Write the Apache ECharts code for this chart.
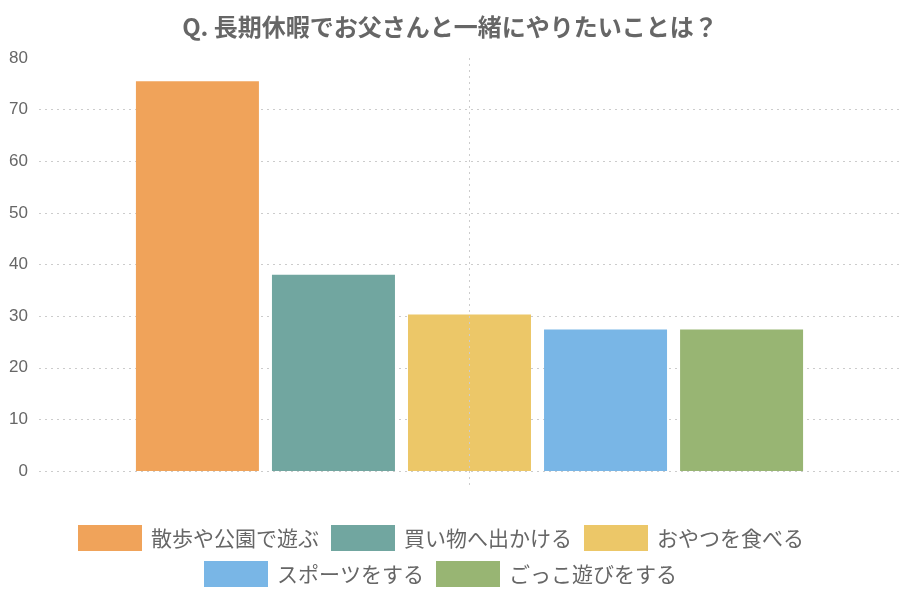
<!DOCTYPE html>
<html>
<head>
<meta charset="utf-8">
<script src="https://cdn.jsdelivr.net/npm/echarts@6/dist/echarts.min.js"></script>
<style>html,body{margin:0;padding:0;background:#fff}#c{width:900px;height:600px}</style>
</head>
<body>
<div id="c"></div>
<script>
const titleText = 'Q. 長期休暇でお父さんと一緒にやりたいことは？';
const categories = [''];
const seriesNames = ['散歩や公園で遊ぶ', '買い物へ出かける', 'おやつを食べる', 'スポーツをする', 'ごっこ遊びをする'];
const seriesValues = [75.5, 38.0, 30.3, 27.4, 27.4];
const colors = ['#F0A35A', '#71A6A0', '#ECC768', '#79B6E6', '#98B573'];
const yTicks = { min: 0, max: 80, interval: 10 };

const font = '"Noto Sans CJK JP", "Noto Sans", sans-serif';
const dotted = { color: '#ccc', type: [2, 4], width: 1 };
const legendCommon = {
  itemWidth: 64, itemHeight: 26, itemGap: 12,
  textStyle: { fontSize: 21, color: '#666', fontFamily: font, padding: [0, 0, 0, 4] },
  icon: 'rect', orient: 'horizontal'
};
const chart = echarts.init(document.getElementById('c'), null, { renderer: 'canvas' });
const barSeries = seriesNames.map((n, i) => ({
  name: n, type: 'bar',
  data: [seriesValues[i]],
  barWidth: 123, barGap: '10.6%',
  itemStyle: { color: colors[i] }
}));
barSeries.push({
  name: '_guide', type: 'line', data: [], silent: true,
  markLine: {
    silent: true, symbol: 'none', label: { show: false },
    lineStyle: dotted, animation: false,
    data: [[{ xAxis: 0, yAxis: yTicks.max }, { xAxis: 0, yAxis: yTicks.min }]]
  }
});
chart.setOption({
  animation: false,
  textStyle: { fontFamily: font },
  title: {
    text: titleText, left: 'center', top: 10,
    textStyle: { fontSize: 24, fontWeight: 'bold', color: '#666', fontFamily: font }
  },
  legend: [
    Object.assign({}, legendCommon, { data: seriesNames.slice(0, 3), top: 520, left: 73 }),
    Object.assign({}, legendCommon, { data: seriesNames.slice(3), top: 556, left: 199 })
  ],
  grid: { left: 39, right: 0, top: 58, bottom: 129, containLabel: false },
  xAxis: {
    type: 'category', data: categories,
    axisLine: { show: false },
    axisLabel: { show: false },
    axisTick: { show: true, alignWithLabel: true, length: 16, lineStyle: dotted },
    splitLine: { show: false }
  },
  yAxis: {
    type: 'value', min: yTicks.min, max: yTicks.max, interval: yTicks.interval,
    axisLine: { show: false }, axisTick: { show: false },
    axisLabel: { color: '#666', fontSize: 17, margin: 11, fontFamily: '"Liberation Sans", Arial, sans-serif' },
    splitLine: { show: true, showMaxLine: false, lineStyle: dotted }
  },
  series: barSeries
});
</script>
</body>
</html>
